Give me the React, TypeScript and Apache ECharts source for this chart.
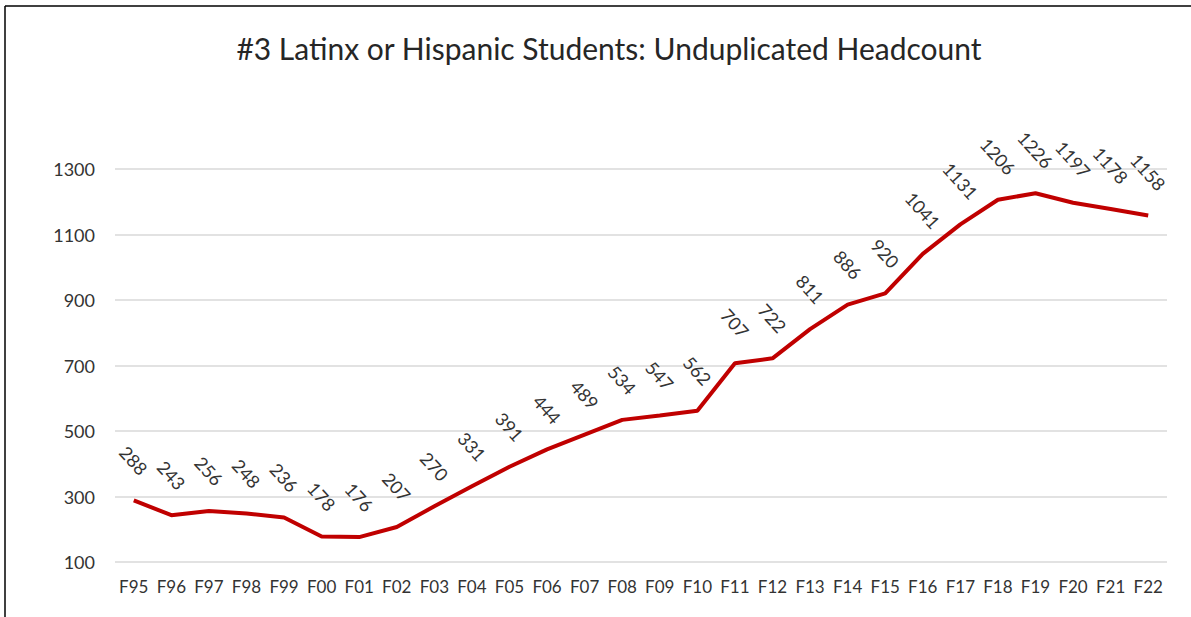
import React, { useEffect, useRef } from "react";
import * as echarts from "echarts";

const title = "#3 Latinx or Hispanic Students: Unduplicated Headcount";
const categories = [
  "F95", "F96", "F97", "F98", "F99", "F00", "F01", "F02", "F03", "F04",
  "F05", "F06", "F07", "F08", "F09", "F10", "F11", "F12", "F13", "F14",
  "F15", "F16", "F17", "F18", "F19", "F20", "F21", "F22",
];
const headcount = [
  288, 243, 256, 248, 236, 178, 176, 207, 270, 331,
  391, 444, 489, 534, 547, 562, 707, 722, 811, 886,
  920, 1041, 1131, 1206, 1226, 1197, 1178, 1158,
];
const yMin = 100;
const yMax = 1300;
const yStep = 200;

const FONT = "Lato, 'Open Sans', sans-serif";

export default function App() {
  const ref = useRef<HTMLDivElement>(null);
  useEffect(() => {
    if (!ref.current) return;
    const chart = echarts.init(ref.current, null, { renderer: "svg" });
    chart.setOption({
      animation: false,
      backgroundColor: "#ffffff",
      title: {
        text: title,
        left: 604,
        top: 28,
        textAlign: "center",
        textStyle: {
          fontFamily: FONT,
          fontSize: 30,
          fontWeight: "normal",
          color: "#262626",
        },
      },
      graphic: [
        {
          type: "line",
          shape: { x1: 5, y1: 6, x2: 1191, y2: 6 },
          style: { stroke: "#000000", lineWidth: 1.5 },
        },
        {
          type: "line",
          shape: { x1: 5, y1: 6, x2: 5, y2: 617 },
          style: { stroke: "#000000", lineWidth: 1.5 },
        },
      ],
      grid: { left: 115, right: 24, top: 169, bottom: 55, containLabel: false },
      xAxis: {
        type: "category",
        data: categories,
        boundaryGap: true,
        axisLine: { show: false },
        axisTick: { show: false },
        axisLabel: {
          fontFamily: FONT,
          fontSize: 17,
          color: "#333333",
          margin: 16,
          interval: 0,
        },
      },
      yAxis: {
        type: "value",
        min: yMin,
        max: yMax,
        interval: yStep,
        axisLine: { show: false },
        axisTick: { show: false },
        splitLine: { lineStyle: { color: "#d9d9d9", width: 1.5 } },
        axisLabel: {
          fontFamily: FONT,
          fontSize: 18,
          color: "#333333",
          margin: 20,
          formatter: (v: number) => String(v),
        },
      },
      series: [
        {
          type: "line",
          data: headcount.map((v) => {
            const len = String(v).length;
            return {
              value: v,
              label: { distance: 22 + (len * 10 + 18) * 0.354 },
            };
          }),
          symbol: "circle",
          symbolSize: 2,
          showSymbol: true,
          lineStyle: { color: "#c00000", width: 4 },
          itemStyle: { color: "#c00000", opacity: 0 },
          labelLayout: { hideOverlap: false },
          label: {
            show: true,
            position: "top",
            rotate: -48,
            align: "center",
            verticalAlign: "middle",
            fontFamily: FONT,
            fontSize: 18,
            color: "#333333",
            opacity: 1,
          },
        },
      ],
    });
    return () => chart.dispose();
  }, []);
  return (
    <div
      ref={ref}
      style={{ position: "fixed", left: 0, top: 0, width: 1191, height: 617 }}
    />
  );
}
